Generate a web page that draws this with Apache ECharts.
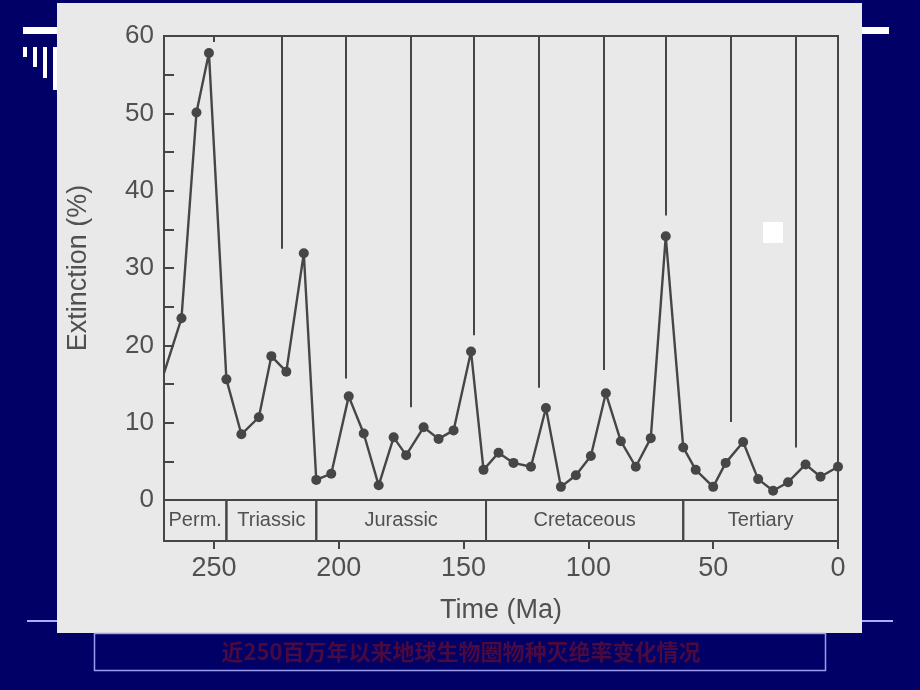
<!DOCTYPE html>
<html>
<head>
<meta charset="utf-8">
<script src="https://cdn.jsdelivr.net/npm/echarts@6/dist/echarts.min.js"></script>
<style>
html,body{margin:0;padding:0;background:#000066;}
#c{width:920px;height:690px;}
</style>
</head>
<body>
<div id="c"></div>
<script>
// Time (Ma) of each sample and extinction (%)
const times = [270, 263, 257, 252, 245, 239, 232, 227, 221, 214, 209, 203, 196, 190, 184, 178, 173, 166, 160, 154, 147, 142, 136, 130, 123, 117, 111, 105, 99, 93, 87, 81, 75, 69, 62, 57, 50, 45, 38, 32, 26, 20, 13, 7, 0];
const extinction = [16.4, 23.5, 50.1, 57.8, 15.6, 8.5, 10.7, 18.6, 16.6, 31.9, 2.6, 3.4, 13.4, 8.6, 1.9, 8.1, 5.8, 9.4, 7.9, 9.0, 19.2, 3.9, 6.1, 4.8, 4.3, 11.9, 1.7, 3.2, 5.7, 13.8, 7.6, 4.3, 8.0, 34.1, 6.8, 3.9, 1.7, 4.8, 7.5, 2.7, 1.2, 2.3, 4.6, 3.0, 4.3];
// 26-Ma periodicity markers: time and lower end (%)
const periodTimes = [223, 197, 171, 146, 120, 94, 69, 43, 17];
const periodEnds = [32.5, 15.7, 12.0, 21.3, 14.5, 16.8, 36.8, 10.1, 6.8];
// Geological periods
const periodNames = ["Perm.", "Triassic", "Jurassic", "Cretaceous", "Tertiary"];
const periodBounds = [270, 245, 209, 141, 62, 0];
const xTicks = [250, 200, 150, 100, 50, 0];
const yMin = 0, yMax = 60;
const xAxisName = "Time (Ma)";
const yAxisName = "Extinction (%)";
const caption = "近250百万年以来地球生物圈物种灭绝率变化情况";

const ink = '#464646';
const txt = '#505050';
const font = '"Liberation Sans", Arial, sans-serif';

const lineData = times.map((t, i) => i === 0 ? {value: [t, extinction[i]], symbol: 'none'} : [t, extinction[i]]);
const markLines = periodTimes.map((t, i) => [{coord: [t, yMax]}, {coord: [t, periodEnds[i]]}]);
const bandAreas = periodNames.map((n, i) => [
  {xAxis: periodBounds[i], yAxis: 0, name: n},
  {xAxis: periodBounds[i + 1], yAxis: 1}
]);

const chart = echarts.init(document.getElementById('c'), null, {renderer: 'canvas'});
chart.setOption({
  backgroundColor: '#000066',
  animation: false,
  graphic: [
    {type: 'rect', z: -20, shape: {x: 27, y: 620, width: 866, height: 2}, style: {fill: '#aab0ff'}},
    {type: 'rect', z: -10, shape: {x: 57, y: 3, width: 805, height: 630}, style: {fill: '#e9e9e9'}},
    {type: 'rect', z: -10, shape: {x: 23, y: 27, width: 34, height: 7}, style: {fill: '#ffffff'}},
    {type: 'rect', z: -10, shape: {x: 862, y: 27, width: 27, height: 7}, style: {fill: '#ffffff'}},
    {type: 'rect', z: -10, shape: {x: 23, y: 47, width: 4, height: 10}, style: {fill: '#ffffff'}},
    {type: 'rect', z: -10, shape: {x: 33, y: 47, width: 4, height: 20}, style: {fill: '#ffffff'}},
    {type: 'rect', z: -10, shape: {x: 43, y: 47, width: 4, height: 31}, style: {fill: '#ffffff'}},
    {type: 'rect', z: -10, shape: {x: 53, y: 47, width: 4, height: 43}, style: {fill: '#ffffff'}},
    {type: 'rect', z: -10, shape: {x: 763, y: 222, width: 20, height: 21}, style: {fill: '#ffffff'}},
    {type: 'rect', z: -10, shape: {x: 94.5, y: 633.5, width: 731, height: 37}, style: {fill: 'none', stroke: '#9a9cf0', lineWidth: 1.5}},
    {type: 'text', z: 5, x: 461, y: 652, style: {text: caption, fill: '#4a0a40', font: 'bold 22px "Noto Sans CJK SC", sans-serif', align: 'center', verticalAlign: 'middle'}}
  ],
  grid: [
    {left: 164, right: 82, top: 36, height: 464, show: true, borderColor: ink, borderWidth: 2, backgroundColor: 'transparent'},
    {left: 164, right: 82, top: 500, height: 41, show: true, borderColor: ink, borderWidth: 2, backgroundColor: 'transparent'}
  ],
  xAxis: [
    {type: 'value', gridIndex: 0, min: 0, max: 270, inverse: true, position: 'top',
     axisLine: {show: false, onZero: false}, splitLine: {show: false}, axisLabel: {show: false},
     axisTick: {show: true, inside: true, length: 6, customValues: [250], lineStyle: {color: ink, width: 2}}},
    {type: 'value', gridIndex: 1, min: 0, max: 270, inverse: true, position: 'bottom',
     axisLine: {show: false, onZero: false}, splitLine: {show: false},
     axisTick: {show: true, inside: false, length: 8, customValues: xTicks, lineStyle: {color: ink, width: 2}},
     axisLabel: {show: true, customValues: xTicks, margin: 14, color: txt, fontSize: 27, fontFamily: font},
     name: xAxisName, nameLocation: 'middle', nameGap: 56,
     nameTextStyle: {color: txt, fontSize: 27, fontFamily: font}}
  ],
  yAxis: [
    {type: 'value', gridIndex: 0, min: yMin, max: yMax, interval: 5, position: 'left',
     axisLine: {show: false, onZero: false}, splitLine: {show: false},
     axisTick: {show: true, inside: true, length: 10, lineStyle: {color: ink, width: 2}},
     axisLabel: {margin: 10, color: txt, fontSize: 26, fontFamily: font,
       formatter: v => (v % 10 === 0 ? String(v) : '')},
     name: yAxisName, nameLocation: 'middle', nameGap: 72, nameRotate: 90,
     nameTextStyle: {color: txt, fontSize: 27, fontFamily: font}},
    {type: 'value', gridIndex: 1, min: 0, max: 1, show: false}
  ],
  series: [
    {type: 'line', xAxisIndex: 0, yAxisIndex: 0, data: lineData,
     symbol: 'circle', symbolSize: 10, showSymbol: true,
     lineStyle: {color: ink, width: 2.4}, itemStyle: {color: ink},
     markLine: {silent: true, symbol: 'none', label: {show: false},
       lineStyle: {color: ink, width: 2, type: 'solid'}, data: markLines}},
    {type: 'line', xAxisIndex: 1, yAxisIndex: 1, data: [],
     markArea: {silent: true, itemStyle: {color: 'transparent', borderColor: ink, borderWidth: 2},
       label: {show: true, position: 'inside', color: txt, fontSize: 20, fontFamily: font},
       data: bandAreas}}
  ]
});
</script>
</body>
</html>
